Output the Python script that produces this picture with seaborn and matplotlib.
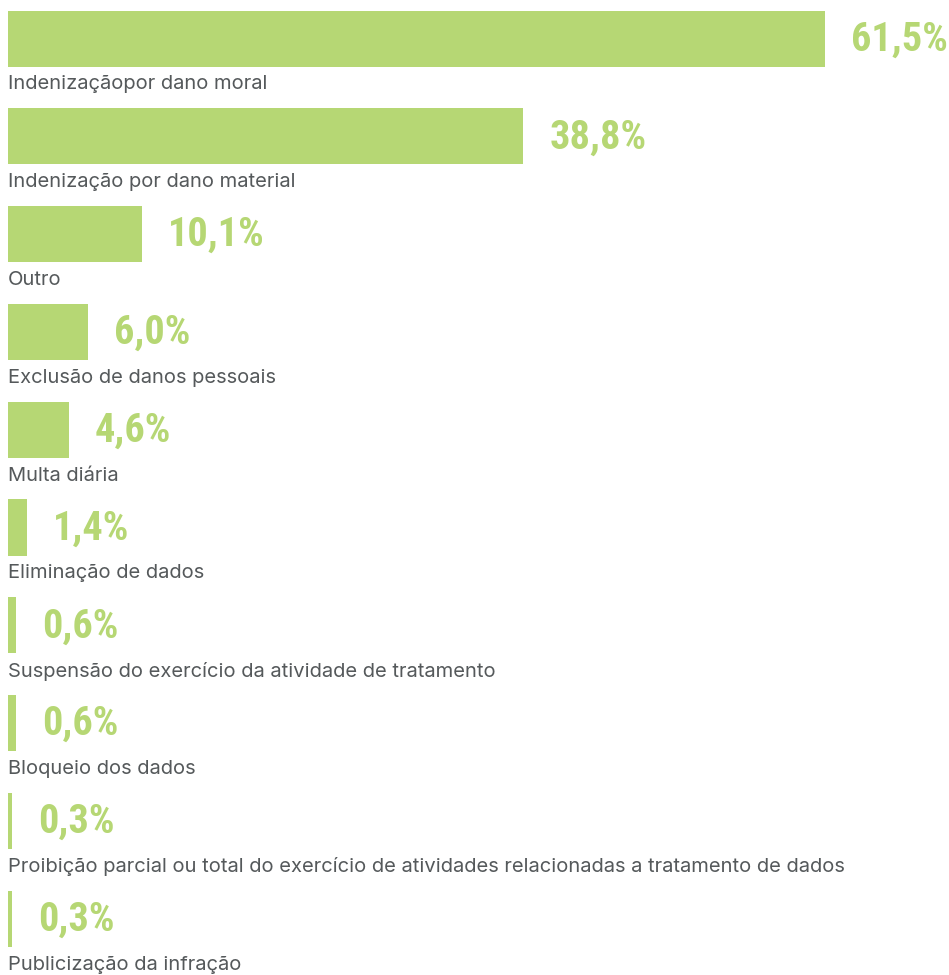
import matplotlib
matplotlib.use("Agg")
import matplotlib.pyplot as plt
import seaborn as sns
import pandas as pd

categorias = [
    "Indenizaçãopor dano moral",
    "Indenização por dano material",
    "Outro",
    "Exclusão de danos pessoais",
    "Multa diária",
    "Eliminação de dados",
    "Suspensão do exercício da atividade de tratamento",
    "Bloqueio dos dados",
    "Proibição parcial ou total do exercício de atividades relacionadas a tratamento de dados",
    "Publicização da infração",
]
valores = [61.5, 38.8, 10.1, 6.0, 4.6, 1.4, 0.6, 0.6, 0.3, 0.3]
rotulos = ["61,5%", "38,8%", "10,1%", "6,0%", "4,6%", "1,4%", "0,6%", "0,6%", "0,3%", "0,3%"]

verde = "#b6d774"
cinza = "#55595b"

df = pd.DataFrame({"pos": range(len(valores)), "valor": valores})

sns.set_theme(style="white")
plt.rcParams["font.family"] = ["Inter", "DejaVu Sans"]

fig = plt.figure(figsize=(9.49, 9.75), dpi=100)
ax = fig.add_axes([8 / 949, 0, 941 / 949, 1])

sns.barplot(data=df, x="valor", y="pos", orient="h",
            color=verde, saturation=1, width=0.573, ax=ax, native_scale=True,
            edgecolor="none", linewidth=0)

# fonte condensada para os valores
fam_valor = ["Roboto Condensed", "DejaVu Sans"]
for i, (v, r, c) in enumerate(zip(valores, rotulos, categorias)):
    ax.text(v + 1.95, i + 0.01, r, va="center", ha="left", color=verde,
            fontsize=29, fontweight="bold", family=fam_valor)
    ax.text(0, i + 0.47, c, va="center", ha="left", color=cinza,
            fontsize=14.5)

ax.set_xlim(0, 941 / 13.28)
ax.set_ylim(9.576, -0.394)
ax.axis("off")

fig.savefig("out.png", dpi=100)
